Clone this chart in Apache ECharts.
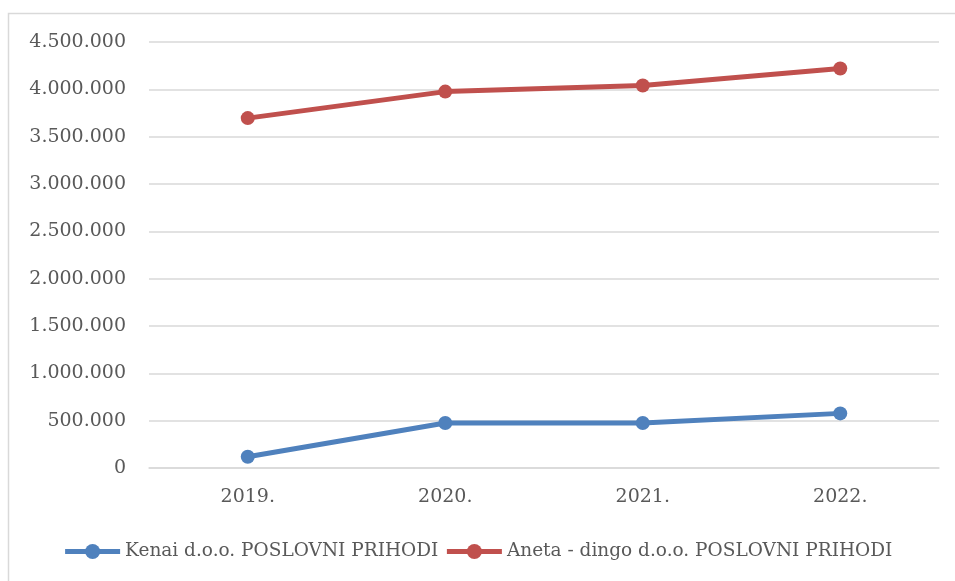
<!DOCTYPE html>
<html>
<head>
<meta charset="utf-8">
<script src="https://cdn.jsdelivr.net/npm/echarts@6/dist/echarts.min.js"></script>
<style>
  html, body { margin: 0; padding: 0; background: #fff; }
  #chart { width: 955px; height: 581px; }
</style>
</head>
<body>
<div id="chart"></div>
<script>
// godine i poslovni prihodi
const years = ['2019.', '2020.', '2021.', '2022.'];
const kenaiPrihodi = [119000, 476000, 475000, 577000];
const anetaPrihodi = [3696000, 3976000, 4040000, 4220000];
const seriesNames = ['Kenai d.o.o. POSLOVNI PRIHODI', 'Aneta - dingo d.o.o. POSLOVNI PRIHODI'];

const fontFamily = '"DejaVu Serif", serif';
const textColor = '#595959';
const gridColor = '#d9d9d9';

// format 4500000 -> 4.500.000
const formatNum = (v) => String(v).replace(/\B(?=(\d{3})+(?!\d))/g, '.');

const chart = echarts.init(document.getElementById('chart'));

const option = {
  backgroundColor: '#fff',
  animation: false,
  // okvir grafikona (samo lijevi i gornji rub su vidljivi)
  graphic: [{
    type: 'polyline',
    shape: { points: [[8.5, 581], [8.5, 13.5], [960, 13.5]] },
    style: { fill: null, stroke: gridColor, lineWidth: 1.5 },
    z: -1
  }],
  grid: {
    left: 149,
    right: 16,
    top: 42,
    bottom: 113,
    containLabel: false
  },
  legend: {
    bottom: 15,
    left: 'center',
    itemWidth: 55,
    itemHeight: 19,
    itemGap: 6,
    lineStyle: { width: 5 },
    textStyle: { fontFamily: fontFamily, fontSize: 18.5, color: textColor },
    data: seriesNames
  },
  xAxis: {
    type: 'category',
    data: years,
    boundaryGap: true,
    axisLine: { show: true, lineStyle: { color: gridColor, width: 1.5 } },
    axisTick: { show: false },
    axisLabel: { fontFamily: fontFamily, fontSize: 19, color: textColor, margin: 20 }
  },
  yAxis: {
    type: 'value',
    min: 0,
    max: 4500000,
    interval: 500000,
    axisLine: { show: false },
    axisTick: { show: false },
    splitLine: { lineStyle: { color: gridColor, width: 1.5 } },
    axisLabel: {
      fontFamily: fontFamily, fontSize: 19, color: textColor, margin: 23,
      formatter: formatNum
    }
  },
  series: [
    {
      name: seriesNames[0],
      type: 'line',
      data: kenaiPrihodi,
      symbol: 'circle',
      symbolSize: 14,
      lineStyle: { width: 5, color: '#4f81bd' },
      itemStyle: { color: '#4f81bd' }
    },
    {
      name: seriesNames[1],
      type: 'line',
      data: anetaPrihodi,
      symbol: 'circle',
      symbolSize: 14,
      lineStyle: { width: 5, color: '#c0504d' },
      itemStyle: { color: '#c0504d' }
    }
  ]
};

chart.setOption(option);
</script>
</body>
</html>
